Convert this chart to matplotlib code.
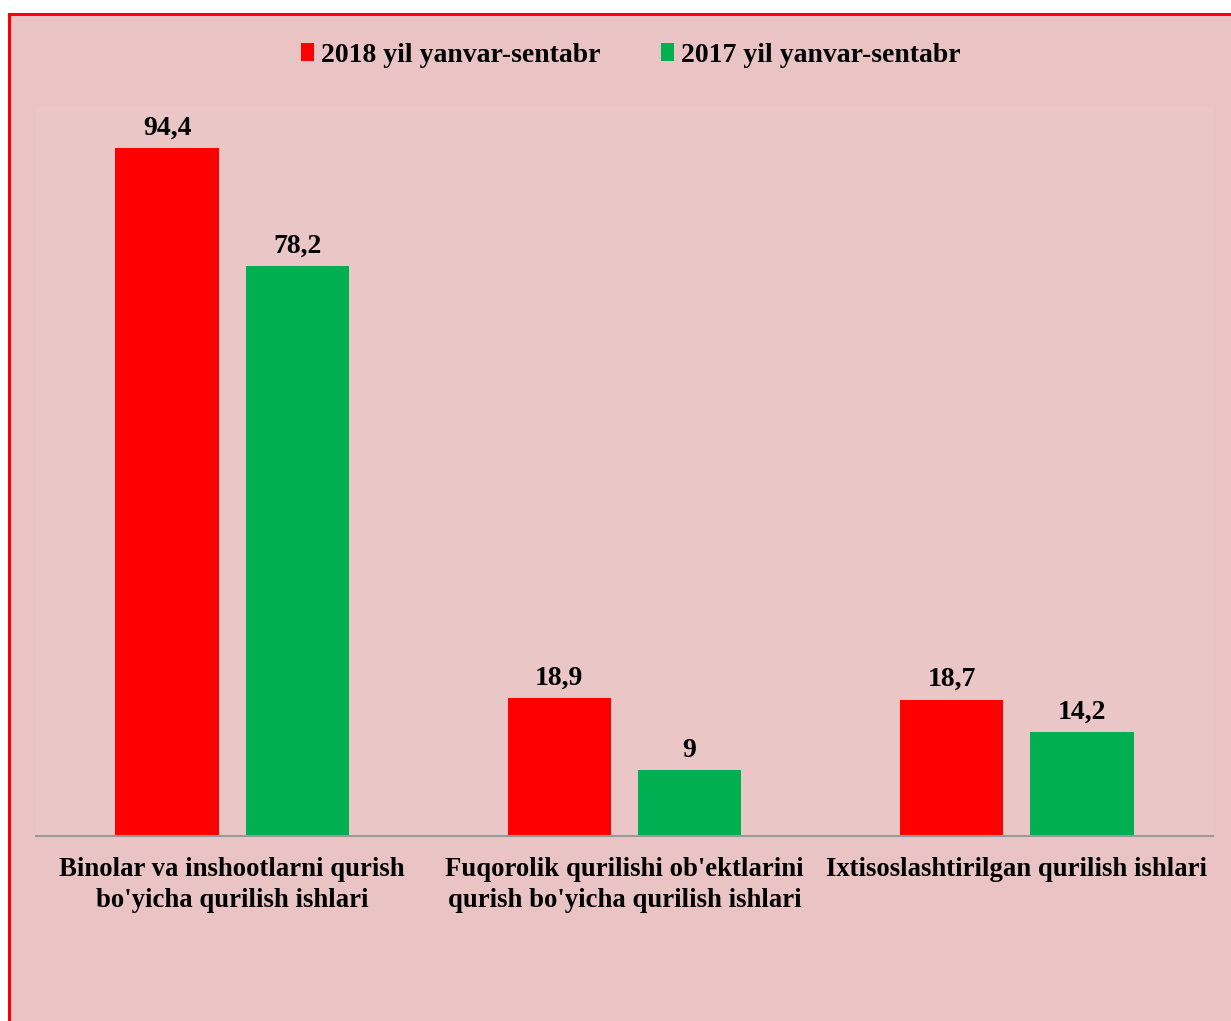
import numpy as np
import matplotlib.pyplot as plt
from matplotlib.patches import Rectangle

# Kategoriyalar va qiymatlar
categories = ["Binolar va inshootlarni qurish\nbo'yicha qurilish ishlari",
              "Fuqorolik qurilishi ob'ektlarini\nqurish bo'yicha qurilish ishlari",
              "Ixtisoslashtirilgan qurilish ishlari"]
values_2018 = [94.4, 18.9, 18.7]
values_2017 = [78.2, 9, 14.2]
series_names = ["2018 yil yanvar-sentabr", "2017 yil yanvar-sentabr"]

plt.rcParams['font.family'] = ['Liberation Serif', 'DejaVu Serif']

W, H = 1231, 1021
fig = plt.figure(figsize=(W / 100, H / 100), dpi=100, facecolor='white')

# fon va qizil chegara (faqat yuqori va chap tomoni ko'rinadi)
bg = '#eac3c4'
fig.patches.append(Rectangle((9 / W, -0.1), 1.2, 1 + 0.1 - 14 / H,
                             transform=fig.transFigure, facecolor=bg,
                             edgecolor='#ff0000', linewidth=2.2, zorder=-5))

ax = fig.add_axes([36 / W, 1 - 836 / H, (1213 - 36) / W, (836 - 107) / H])
ax.set_facecolor('#f0d2d2')
ax.patch.set_alpha(0.25)

x = np.arange(len(categories))
w = 0.263
off = 0.166
b1 = ax.bar(x - off, values_2018, w, color='#ff0000', label=series_names[0], zorder=2)
b2 = ax.bar(x + off, values_2017, w, color='#00b050', label=series_names[1], zorder=2)

fmt = lambda v: ('%g' % v).replace('.', ',')
for bars, vals in ((b1, values_2018), (b2, values_2017)):
    for r, v in zip(bars, vals):
        ax.annotate(fmt(v), (r.get_x() + r.get_width() / 2, v), xytext=(0, 5.5),
                    textcoords='offset points', ha='center', va='bottom',
                    fontsize=20, fontweight='bold')

ax.set_xlim(-0.5, 2.5)
ax.set_ylim(0, 100)
ax.set_yticks([])
ax.set_xticks(x)
ax.set_xticklabels(categories, fontsize=19.3, fontweight='bold', linespacing=1.3)
ax.tick_params(axis='x', length=0, pad=15)
for s in ['top', 'right', 'left']:
    ax.spines[s].set_visible(False)
ax.spines['bottom'].set_color('#999999')
ax.spines['bottom'].set_linewidth(1.5)

leg = fig.legend(loc='center', bbox_to_anchor=(631 / W, 1 - 55 / H), ncol=2,
                 frameon=False, prop={'size': 20, 'weight': 'bold'},
                 handlelength=0.45, handleheight=0.6, handletextpad=0.25,
                 columnspacing=2.2)

fig.savefig('out.png', dpi=100, facecolor=fig.get_facecolor())
